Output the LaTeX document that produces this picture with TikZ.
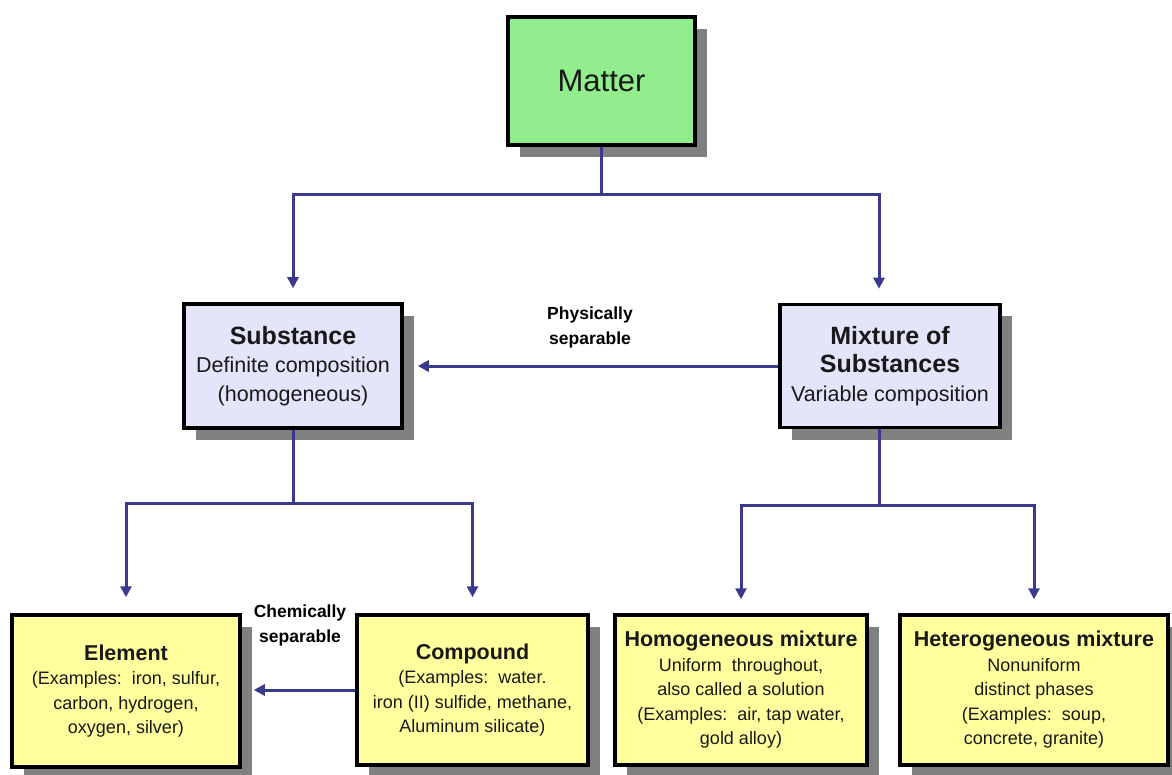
\documentclass[tikz,border=0pt]{standalone}
\usepackage{fontspec}
\setmainfont{Liberation Sans}
\usetikzlibrary{arrows.meta,shadows}
\definecolor{mattergreen}{RGB}{146,238,140}
\definecolor{substblue}{RGB}{228,228,250}
\definecolor{kindyellow}{RGB}{255,255,158}
\definecolor{linkblue}{RGB}{58,58,140}

\begin{document}
\begin{tikzpicture}[x=1pt,y=-1pt,
        box/.style={draw=black,line width=3.5pt,align=center,inner sep=0pt,text=black!90,
            drop shadow={shadow xshift=12pt,shadow yshift=-12pt,fill=black!50,opacity=1}},
        topbox/.style={box,fill=substblue,font=\fontsize{21.5}{28.5}\selectfont},
        kindbox/.style={box,fill=kindyellow,minimum height=150pt,font=\fontsize{18}{24.5}\selectfont},
        note/.style={align=center,inner sep=0pt,font=\bfseries\fontsize{17.5}{25}\selectfont},
        link/.style={draw=linkblue,line width=3pt,-{Triangle[length=11pt,width=11pt]}}]
    \useasboundingbox(0,0) rectangle(1172,775);
    \node[box,fill=mattergreen,minimum width=187pt,minimum height=128pt,font=\fontsize{31}{36}\selectfont](matter) at (601.5,81){Matter};
    \node[topbox,minimum width=218pt,minimum height=124pt](subst) at (293,366){{\bfseries\fontsize{25}{28.5}\selectfont Substance}\\Definite composition\\(homogeneous)};
    \node[topbox,minimum width=220pt,minimum height=123pt](mix) at (890,366){{\bfseries\fontsize{25}{29.5}\selectfont Mixture of}\\{\bfseries\fontsize{25}{29.5}\selectfont Substances}\\Variable composition};
    \node[kindbox,minimum width=228pt,minimum height=152pt](element) at (126,691){{\bfseries\fontsize{21.5}{26}\selectfont Element}\\(Examples:\ \ iron, sulfur,\\carbon, hydrogen,\\oxygen, silver)};
    \node[kindbox,minimum width=231pt](compound) at (472.5,690){{\bfseries\fontsize{21.5}{26}\selectfont Compound}\\(Examples:\ \ water.\\iron (II) sulfide, methane,\\Aluminum silicate)};
    \node[kindbox,minimum width=252pt](homog) at (741,690){{\bfseries\fontsize{21.5}{25}\selectfont Homogeneous mixture}\\Uniform\ \ throughout,\\also called a solution\\(Examples:\ \ air, tap water,\\gold alloy)};
    \node[kindbox,minimum width=268pt](heterog) at (1034,690){{\bfseries\fontsize{21.5}{25}\selectfont Heterogeneous mixture}\\Nonuniform\\distinct phases\\(Examples:\ \ soup,\\concrete, granite)};
    \node[note](physlbl) at (590,327){Physically\\separable};
    \node[note](chemlbl) at (300,625){Chemically\\separable};
    % matter splits in two
    \draw[link,shorten >=14pt](matter.south)--++(0,48)-|(subst.north);
    \draw[link,shorten >=14pt](matter.south)--++(0,48)-|([xshift=-11pt]mix.north);
    \draw[link,shorten >=14pt](mix.west)--(subst.east);
    % lower level
    \draw[link,shorten >=16pt](subst.south)--++(0,74)-|(element.north);
    \draw[link,shorten >=16pt](subst.south)--++(0,74)-|(compound.north);
    \draw[link,shorten >=12pt](compound.west)--(compound.west-|element.east);
    \draw[link,shorten >=14pt]([xshift=-11pt]mix.south)--++(0,76)-|(homog.north);
    \draw[link,shorten >=14pt]([xshift=-11pt]mix.south)--++(0,76)-|(heterog.north);
\end{tikzpicture}
\end{document}
